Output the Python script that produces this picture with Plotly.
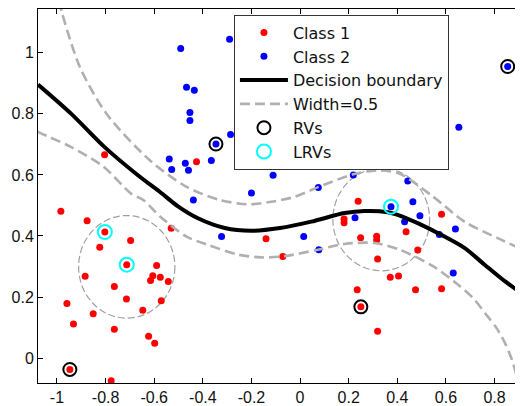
import plotly.graph_objects as go

# ---------------- data ----------------
class1_x = [-0.984, -0.876, -0.803, -0.697, -0.824, -0.713, -0.590, -0.606, -0.615, -0.575,
            -0.542, -0.884, -0.764, -0.714, -0.571, -0.959, -0.647, -0.851, -0.932, -0.764,
            -0.623, -0.598, -0.947, -0.777, -0.530, -0.804, -0.426, -0.140, 0.239, 0.181,
            0.181, 0.249, 0.315, 0.315, -0.071, 0.319, 0.371, 0.405, 0.235, 0.250,
            0.319, 0.582, 0.436, 0.484, 0.475, 0.582]
class1_y = [0.481, 0.450, 0.413, 0.385, 0.363, 0.306, 0.303, 0.270, 0.254, 0.265,
            0.251, 0.268, 0.235, 0.194, 0.188, 0.179, 0.157, 0.145, 0.112, 0.095,
            0.072, 0.049, -0.037, -0.074, 0.425, 0.666, 0.643, 0.391, 0.514, 0.456,
            0.443, 0.394, 0.399, 0.387, 0.333, 0.325, 0.265, 0.269, 0.224, 0.168,
            0.088, 0.471, 0.414, 0.354, 0.224, 0.227]

class2_x = [-0.491, -0.290, -0.467, -0.435, -0.453, -0.453, -0.286, -0.346, -0.538, -0.472,
            -0.365, -0.528, -0.459, -0.111, -0.200, 0.219, 0.075, 0.854, 0.653, 0.573,
            0.443, -0.439, -0.323, 0.374, 0.226, 0.015, 0.077, 0.464, 0.493, 0.430,
            0.639, 0.573, 0.630]
class2_y = [1.014, 1.044, 0.887, 0.877, 0.804, 0.778, 0.732, 0.701, 0.652, 0.638,
            0.647, 0.618, 0.615, 0.599, 0.541, 0.600, 0.559, 0.955, 0.756, 0.635,
            0.580, 0.518, 0.398, 0.496, 0.460, 0.398, 0.355, 0.512, 0.466, 0.447,
            0.423, 0.405, 0.279]

rv_x = [-0.947, -0.346, 0.854, 0.250]
rv_y = [-0.037, 0.701, 0.955, 0.168]

lrv_x = [-0.803, -0.713, 0.374]
lrv_y = [0.413, 0.306, 0.496]

boundary_x = [-1.078, -0.941, -0.804, -0.667, -0.576, -0.502, -0.420, -0.310, -0.201, -0.083,
              0.046, 0.183, 0.265, 0.361, 0.410, 0.484, 0.580, 0.676, 0.759, 0.842, 0.916]
boundary_y = [0.896, 0.800, 0.691, 0.599, 0.544, 0.497, 0.458, 0.426, 0.417, 0.426,
              0.447, 0.475, 0.482, 0.478, 0.467, 0.442, 0.404, 0.361, 0.306, 0.252, 0.210]

upper_x = [-0.990, -0.979, -0.905, -0.796, -0.618, -0.467, -0.330, -0.215, -0.119, -0.023,
           0.074, 0.218, 0.320, 0.410, 0.547, 0.676, 0.813, 0.920]
upper_y = [1.170, 1.130, 0.952, 0.800, 0.648, 0.561, 0.518, 0.504, 0.512, 0.528,
           0.560, 0.602, 0.615, 0.604, 0.529, 0.447, 0.393, 0.354]

lower_x = [-1.080, -1.065, -0.941, -0.810, -0.694, -0.645, -0.576, -0.467, -0.379, -0.256,
           -0.160, -0.072, 0.073, 0.183, 0.306, 0.410, 0.547, 0.649, 0.710, 0.765,
           0.807, 0.842, 0.868, 0.889, 0.900]
lower_y = [0.742, 0.736, 0.691, 0.628, 0.538, 0.518, 0.464, 0.398, 0.371, 0.339,
           0.330, 0.333, 0.355, 0.374, 0.377, 0.355, 0.301, 0.241, 0.198, 0.143,
           0.100, 0.051, 0.002, -0.052, -0.095]

circle_cx = [-0.713, 0.334]
circle_cy = [0.299, 0.454]
circle_rx = [0.198, 0.199]
circle_ry = [0.168, 0.168]

x_ticks = [-1, -0.8, -0.6, -0.4, -0.2, 0, 0.2, 0.4, 0.6, 0.8]
x_tick_labels = ["-1", "-0.8", "-0.6", "-0.4", "-0.2", "0", "0.2", "0.4", "0.6", "0.8"]
y_ticks = [0, 0.2, 0.4, 0.6, 0.8, 1]
y_tick_labels = ["0", "0.2", "0.4", "0.6", "0.8", "1"]

# ---------------- figure ----------------
FONT = "Liberation Sans, Arial, Helvetica, sans-serif"
LEGEND_FONT = "DejaVu Sans, Liberation Sans, Arial, sans-serif"
fig = go.Figure()

fig.add_trace(go.Scatter(x=class1_x, y=class1_y, mode="markers", name="Class 1",
                         marker=dict(color="#ff0000", size=7, line=dict(width=0))))
fig.add_trace(go.Scatter(x=class2_x, y=class2_y, mode="markers", name="Class 2",
                         marker=dict(color="#0000ff", size=7, line=dict(width=0))))
fig.add_trace(go.Scatter(x=boundary_x, y=boundary_y, mode="lines", name="Decision boundary",
                         line=dict(color="black", width=4, shape="spline", smoothing=0.8)))
margin_x = upper_x + [None] + lower_x
margin_y = upper_y + [None] + lower_y
fig.add_trace(go.Scatter(x=margin_x, y=margin_y, mode="lines", name="Width=0.5",
                         connectgaps=False,
                         line=dict(color="#b0b0b0", width=2.6, dash="10px,5px",
                                   shape="spline", smoothing=0.8)))
fig.add_trace(go.Scatter(x=rv_x, y=rv_y, mode="markers", name="RVs",
                         marker=dict(symbol="circle-open", color="black", size=13,
                                     line=dict(width=2, color="black"))))
fig.add_trace(go.Scatter(x=lrv_x, y=lrv_y, mode="markers", name="LRVs",
                         marker=dict(symbol="circle-open", color="#00ffff", size=14,
                                     line=dict(width=2, color="#00ffff"))))

for cx, cy, rx, ry in zip(circle_cx, circle_cy, circle_rx, circle_ry):
    fig.add_shape(type="circle", xref="x", yref="y",
                  x0=cx - rx, x1=cx + rx, y0=cy - ry, y1=cy + ry,
                  line=dict(color="#a0a0a0", width=1.2, dash="7px,3px"), layer="below")

# the page places the figure 8px from the top-left corner of the window
fig.update_layout(
    width=515, height=398,
    margin=dict(l=30, r=0, t=0, b=22),
    paper_bgcolor="white", plot_bgcolor="white",
    font=dict(family=FONT, size=16, color="black"),
    showlegend=True,
    legend=dict(x=0.404, y=0.985, xanchor="left", yanchor="top",
                bgcolor="white", bordercolor="#333333", borderwidth=1,
                font=dict(family=LEGEND_FONT, size=16, color="#111111"),
                itemwidth=48, tracegroupgap=0),
    xaxis=dict(range=[-1.078, 0.917], tickmode="array", tickvals=x_ticks, ticktext=x_tick_labels,
               ticks="inside", ticklen=5, tickcolor="black", showline=True, linecolor="black",
               linewidth=1, mirror="ticks", showgrid=False, zeroline=False,
               tickfont=dict(family=FONT, size=16, color="#111111")),
    yaxis=dict(range=[-0.0814, 1.1433], tickmode="array", tickvals=y_ticks, ticktext=y_tick_labels,
               ticks="inside", ticklen=5, tickcolor="black", showline=True, linecolor="black",
               linewidth=1, mirror=False, showgrid=False, zeroline=False,
               tickfont=dict(family=FONT, size=16, color="#111111")),
)

fig.write_html("out.html")
